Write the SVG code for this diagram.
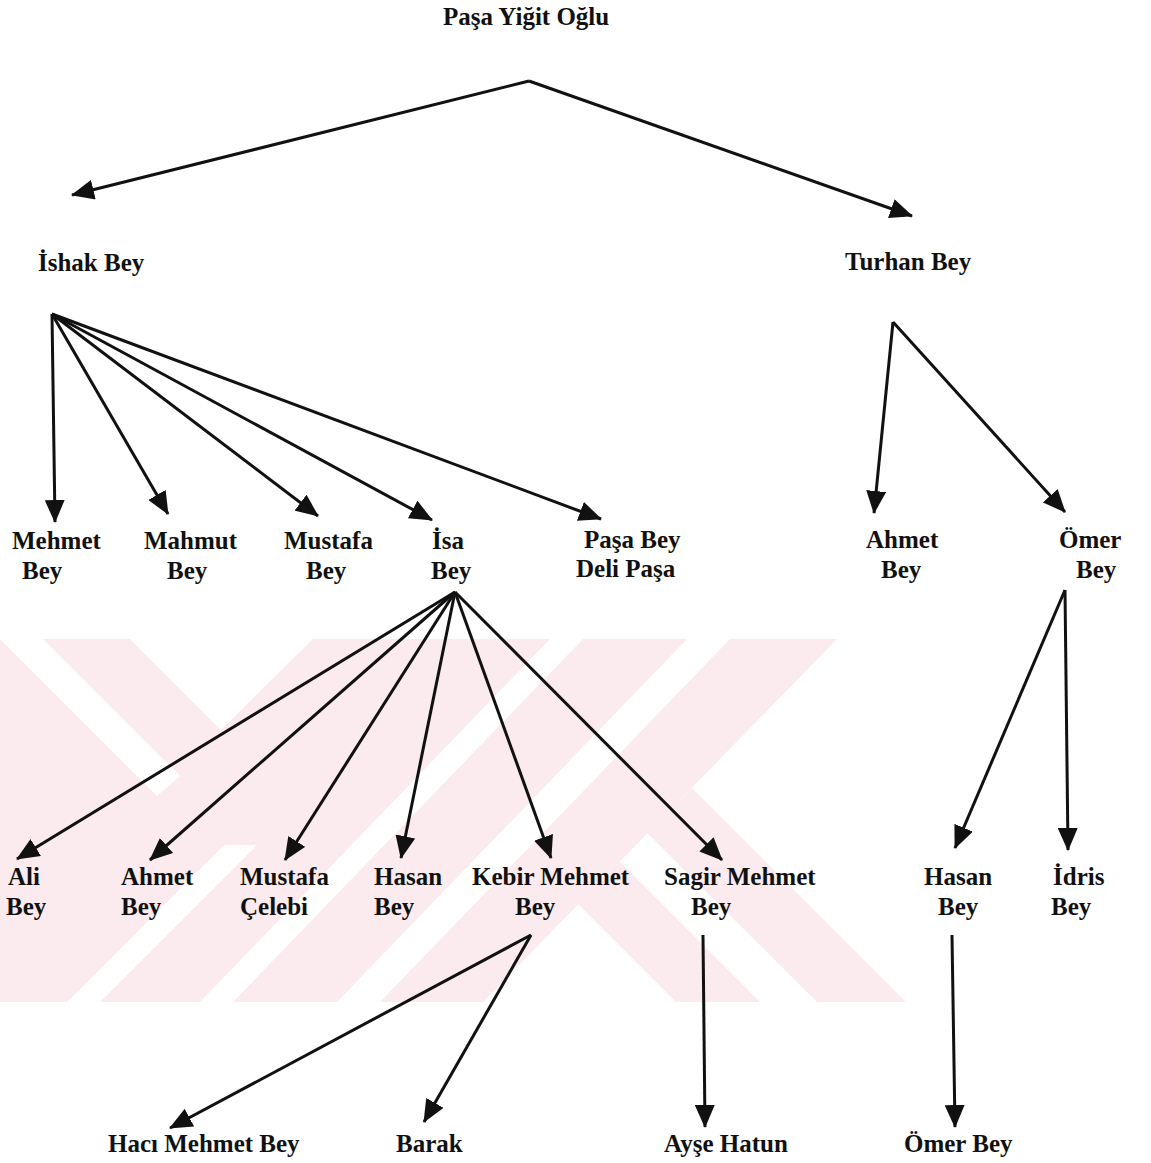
<svg xmlns="http://www.w3.org/2000/svg" width="1151" height="1163" viewBox="0 0 1151 1163">
<style>
.t{font-family:"Liberation Serif","Times New Roman",serif;font-size:25px;font-weight:bold;fill:#111}
.c line{stroke:#111;stroke-width:3;marker-end:url(#ah)}
.wm{fill:#fcebee}
.wh{fill:#fff}
</style>
<defs>
<marker id="ah" markerUnits="userSpaceOnUse" markerWidth="24" markerHeight="20" refX="22" refY="10" orient="auto">
<path d="M0,0 L23,10 L0,20 z" fill="#111"/>
</marker>
</defs>
<rect width="1151" height="1163" fill="#fff"/>
<g id="watermark">
<polygon class="wm" points="0,639 837,639 483,1002 0,1002"/>
<polygon class="wm" points="692,788 906,1002 817,1002 647,833"/>
<polygon class="wm" points="619,861 760,1002 676,1002 577,903"/>
<polygon class="wh" points="550,639 583,639 233,1002 200,1002"/>
<polygon class="wh" points="687,639 730,639 380,1002 337,1002"/>
<polygon class="wh" points="130,639 313,639 221,730"/>
<polygon class="wh" points="0,639 43,639 180,776 157,796"/>
<polygon class="wh" points="67,1002 100,1002 257,845 224,845"/>
</g>
<g id="connectors" class="c">
<line x1="529" y1="81" x2="72" y2="195"/>
<line x1="529" y1="81" x2="912" y2="216"/>
<line x1="52" y1="314" x2="55" y2="522"/>
<line x1="52" y1="314" x2="168" y2="514"/>
<line x1="52" y1="314" x2="318" y2="516"/>
<line x1="52" y1="314" x2="432" y2="520"/>
<line x1="52" y1="314" x2="601" y2="519"/>
<line x1="893" y1="322" x2="874" y2="513"/>
<line x1="893" y1="322" x2="1065" y2="512"/>
<line x1="455" y1="592" x2="17" y2="859"/>
<line x1="455" y1="592" x2="150" y2="860"/>
<line x1="455" y1="592" x2="285" y2="860"/>
<line x1="455" y1="592" x2="401" y2="858"/>
<line x1="455" y1="592" x2="551" y2="858"/>
<line x1="455" y1="592" x2="722" y2="860"/>
<line x1="1065" y1="590" x2="955" y2="848"/>
<line x1="1065" y1="590" x2="1068" y2="850"/>
<line x1="531" y1="935" x2="170" y2="1128"/>
<line x1="531" y1="935" x2="424" y2="1122"/>
<line x1="703" y1="935" x2="705" y2="1127"/>
<line x1="952" y1="935" x2="955" y2="1127"/>
</g>
<g id="n-pasa-yigit"><text class="t" x="443" y="25">Paşa Yiğit Oğlu</text></g>
<g id="n-ishak"><text class="t" x="38" y="271">İshak Bey</text></g>
<g id="n-turhan"><text class="t" x="845" y="270">Turhan Bey</text></g>
<g id="n-mehmet"><text class="t" x="12" y="549">Mehmet</text><text class="t" x="22" y="579">Bey</text></g>
<g id="n-mahmut"><text class="t" x="144" y="549">Mahmut</text><text class="t" x="167" y="579">Bey</text></g>
<g id="n-mustafa"><text class="t" x="284" y="549">Mustafa</text><text class="t" x="306" y="579">Bey</text></g>
<g id="n-isa"><text class="t" x="432" y="549">İsa</text><text class="t" x="431" y="579">Bey</text></g>
<g id="n-pasabey"><text class="t" x="584" y="548">Paşa Bey</text><text class="t" x="576" y="577">Deli Paşa</text></g>
<g id="n-ahmet1"><text class="t" x="866" y="548">Ahmet</text><text class="t" x="881" y="578">Bey</text></g>
<g id="n-omer1"><text class="t" x="1059" y="548">Ömer</text><text class="t" x="1076" y="578">Bey</text></g>
<g id="n-ali"><text class="t" x="8" y="885">Ali</text><text class="t" x="6" y="915">Bey</text></g>
<g id="n-ahmet2"><text class="t" x="121" y="885">Ahmet</text><text class="t" x="121" y="915">Bey</text></g>
<g id="n-mustafa-celebi"><text class="t" x="240" y="885">Mustafa</text><text class="t" x="240" y="915">Çelebi</text></g>
<g id="n-hasan1"><text class="t" x="374" y="885">Hasan</text><text class="t" x="374" y="915">Bey</text></g>
<g id="n-kebir"><text class="t" x="472" y="885">Kebir Mehmet</text><text class="t" x="515" y="915">Bey</text></g>
<g id="n-sagir"><text class="t" x="664" y="885">Sagir Mehmet</text><text class="t" x="691" y="915">Bey</text></g>
<g id="n-hasan2"><text class="t" x="924" y="885">Hasan</text><text class="t" x="938" y="915">Bey</text></g>
<g id="n-idris"><text class="t" x="1053" y="885">İdris</text><text class="t" x="1051" y="915">Bey</text></g>
<g id="n-haci"><text class="t" x="108" y="1152">Hacı Mehmet Bey</text></g>
<g id="n-barak"><text class="t" x="396" y="1152">Barak</text></g>
<g id="n-ayse"><text class="t" x="664" y="1152">Ayşe Hatun</text></g>
<g id="n-omer2"><text class="t" x="904" y="1152">Ömer Bey</text></g>
</svg>
